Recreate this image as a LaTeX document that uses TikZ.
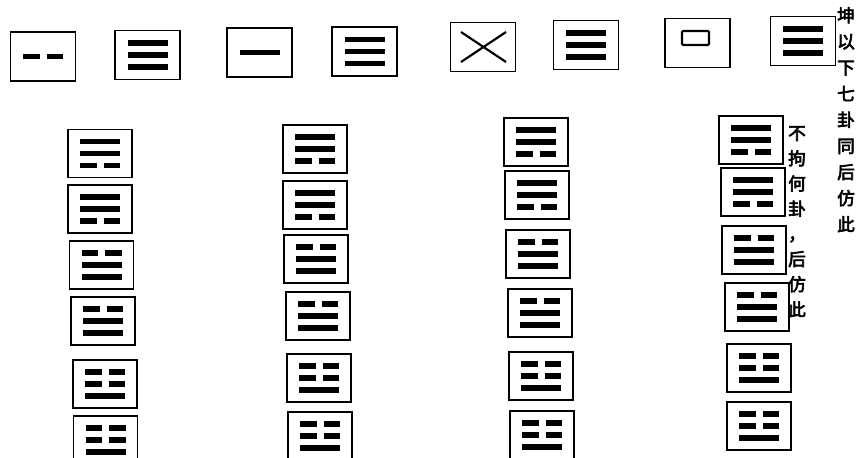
\documentclass[tikz,border=0pt]{standalone}
\usepackage{fontspec}
\usetikzlibrary{calc}
\newfontfamily\cjk[FakeBold=3.5]{Noto Sans CJK SC}
\tikzset{
  gbox/.style={
    rectangle, draw=black, line width=1.5pt,
    minimum width=1.92cm, minimum height=1.44cm, inner sep=0pt
  },
  tbox/.style={gbox, minimum width=1.95cm, minimum height=1.47cm},
  yaoline/.style={line width=4.6pt, color=black},
  thinline/.style={line width=1.8pt, color=black},
  vtext/.style={
    font=\cjk\fontsize{15}{22.3}\selectfont,
    align=center, inner sep=0pt, anchor=north
  },
}
% one line of a trigram: node, vertical offset, 1 = solid / 0 = broken
\newcommand{\yao}[3]{%
  \ifnum#3=1
    \draw[yaoline] ($(#1)+(-20,#2)$) -- ($(#1)+(20,#2)$);
  \else
    \draw[yaoline] ($(#1)+(-20,#2)$) -- ($(#1)+(-3.5,#2)$);
    \draw[yaoline] ($(#1)+(3.5,#2)$) -- ($(#1)+(20,#2)$);
  \fi}
% trigram, top to bottom
\newcommand{\gua}[4]{\yao{#1}{-12}{#2}\yao{#1}{0}{#3}\yao{#1}{12}{#4}}

\begin{document}
\begin{tikzpicture}[x=0.03cm, y=-0.03cm]
    \useasboundingbox (0,0) rectangle (863,458);
    \clip (0,0) rectangle (863,458);

    \node[tbox] (t1) at (43,56.5) {};
    \node[tbox] (t2) at (147.5,55) {};
    \node[tbox] (t3) at (259.5,52.5) {};
    \node[tbox] (t4) at (364.5,51.5) {};
    \node[tbox] (t5) at (483,47) {};
    \node[tbox] (t6) at (586,45) {};
    \node[tbox] (t7) at (697.5,43) {};
    \node[tbox] (t8) at (803,41) {};

    \yao{t1}{0}{0}
    \gua{t2}{1}{1}{1}
    \yao{t3}{0}{1}
    \gua{t4}{1}{1}{1}
    \draw[thinline] ($(t5)+(-22,-15)$) -- ($(t5)+(23,15)$);
    \draw[thinline] ($(t5)+(-22,15)$) -- ($(t5)+(23,-15)$);
    \gua{t6}{1}{1}{1}
    \draw[thinline, rounded corners=1pt] ($(t7)+(-15.5,-12)$) rectangle ($(t7)+(11.5,2)$);
    \gua{t8}{1}{1}{1}

    \node[gbox] (a1) at (100,153.5) {};
    \node[gbox] (a2) at (100,209) {};
    \node[gbox] (a3) at (101.5,265) {};
    \node[gbox] (a4) at (103,321) {};
    \node[gbox] (a5) at (105,384) {};
    \node[gbox] (a6) at (105.5,440) {};

    \node[gbox] (b1) at (315,149) {};
    \node[gbox] (b2) at (315,205) {};
    \node[gbox] (b3) at (316,259) {};
    \node[gbox] (b4) at (318,316) {};
    \node[gbox] (b5) at (319,378) {};
    \node[gbox] (b6) at (320,436) {};

    \node[gbox] (c1) at (536,142) {};
    \node[gbox] (c2) at (537,195) {};
    \node[gbox] (c3) at (538,254) {};
    \node[gbox] (c4) at (540,313) {};
    \node[gbox] (c5) at (541,376) {};
    \node[gbox] (c6) at (542,435) {};

    \node[gbox] (d1) at (751,140) {};
    \node[gbox] (d2) at (753,192) {};
    \node[gbox] (d3) at (754,250) {};
    \node[gbox] (d4) at (757,307) {};
    \node[gbox] (d5) at (759,368) {};
    \node[gbox] (d6) at (759,426) {};

    \gua{a1}{1}{1}{0} \gua{a2}{1}{1}{0} \gua{a3}{0}{1}{1}
    \gua{a4}{0}{1}{1} \gua{a5}{0}{0}{1} \gua{a6}{0}{0}{1}
    \gua{b1}{1}{1}{0} \gua{b2}{1}{1}{0} \gua{b3}{0}{1}{1}
    \gua{b4}{0}{1}{1} \gua{b5}{0}{0}{1} \gua{b6}{0}{0}{1}
    \gua{c1}{1}{1}{0} \gua{c2}{1}{1}{0} \gua{c3}{0}{1}{1}
    \gua{c4}{0}{1}{1} \gua{c5}{0}{0}{1} \gua{c6}{0}{0}{1}
    \gua{d1}{1}{1}{0} \gua{d2}{1}{1}{0} \gua{d3}{0}{1}{1}
    \gua{d4}{0}{1}{1} \gua{d5}{0}{0}{1} \gua{d6}{0}{0}{1}

    \node[vtext] (note1) at (846,7) {坤\\以\\下\\七\\卦\\同\\后\\仿\\此};
    \node[vtext, font=\cjk\fontsize{15}{21.5}\selectfont] (note2) at (797,126)
      {不\\拘\\何\\卦\\，\\后\\仿\\此};
  \end{tikzpicture}
\end{document}
